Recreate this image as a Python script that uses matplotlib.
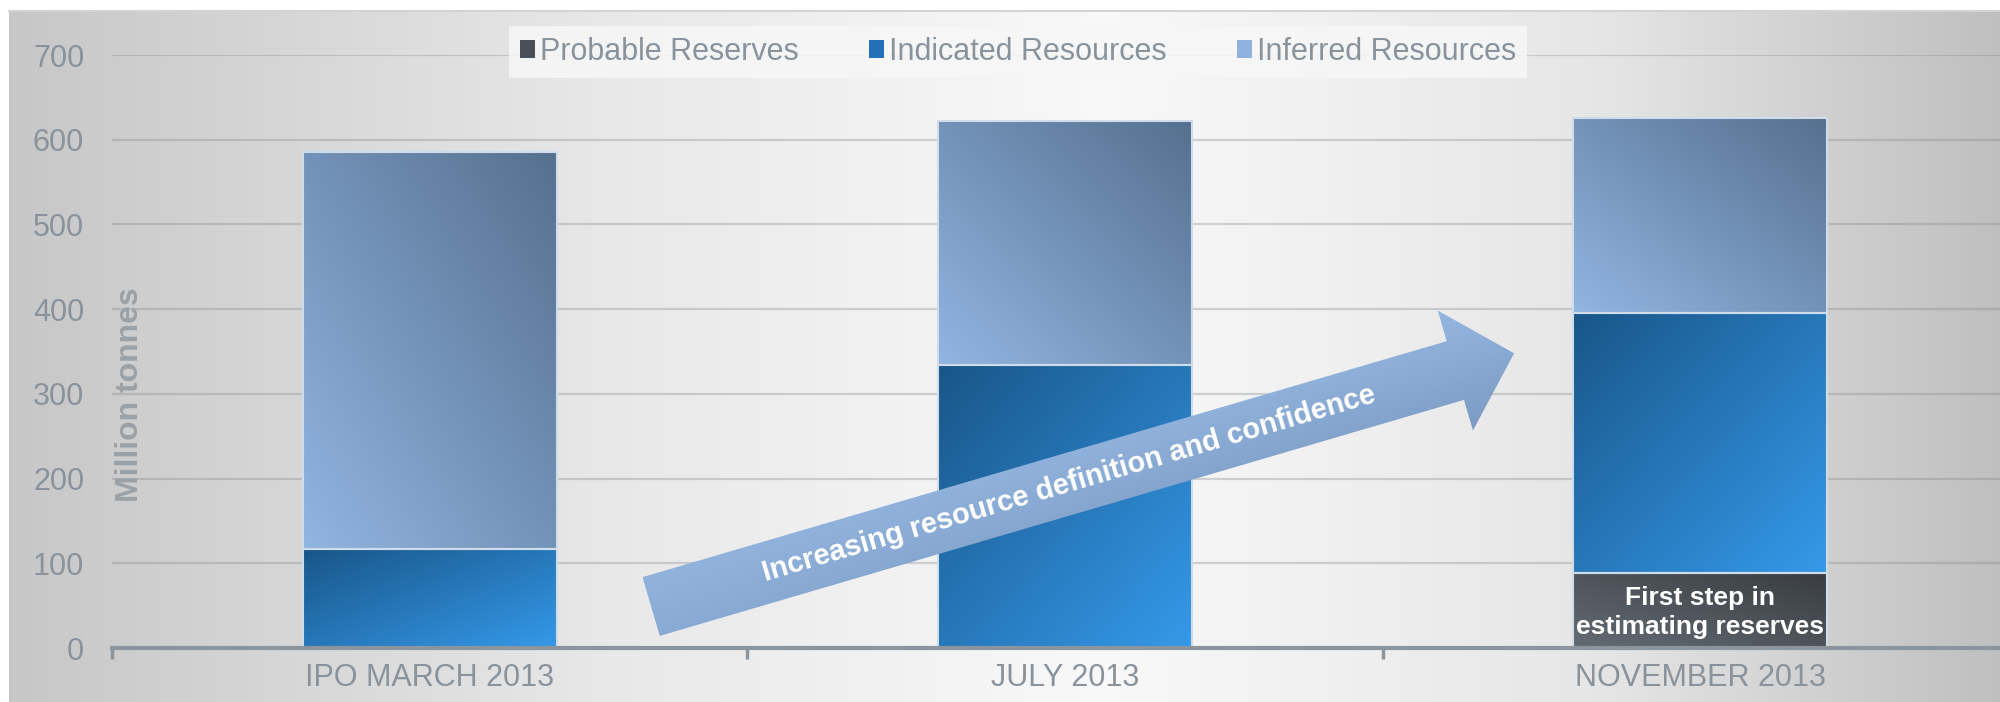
import numpy as np
import matplotlib
matplotlib.use('Agg')
import matplotlib.pyplot as plt
from matplotlib.colors import LinearSegmentedColormap
from matplotlib.patches import Polygon, Patch

# ---------------- data ----------------
categories = ['IPO MARCH 2013', 'JULY 2013', 'NOVEMBER 2013']
series_names = ['Probable Reserves', 'Indicated Resources', 'Inferred Resources']
probable = [0, 0, 89]
indicated = [117, 334, 307]
inferred = [469, 288, 230]
yticks = [0, 100, 200, 300, 400, 500, 600, 700]
arrow_text = 'Increasing resource definition and confidence'
bar_note = 'First step in\nestimating reserves'
y_label = 'Million tonnes'

# ---------------- style ----------------
W, H = 2000, 702
SANS = ['Liberation Sans', 'DejaVu Sans']
GREY_TXT = '#8a939b'

fig = plt.figure(figsize=(W / 100, H / 100), dpi=100)
fig.patch.set_facecolor('white')

# background panel with horizontal gradient
bg = fig.add_axes([9 / W, 0, 1 - 9 / W, (H - 11) / H], zorder=0)
xs = np.linspace(0, 1, 600)
vals = np.interp(xs, [0, 0.3, 0.55, 0.8, 1.0], [0.78, 0.91, 0.975, 0.90, 0.75])
img = np.dstack([np.tile(vals, (2, 1))] * 3)
bg.imshow(img, aspect='auto', extent=(0, 1, 0, 1), interpolation='bilinear')
bg.set_xlim(0, 1)
bg.set_ylim(0, 1)
bg.set_axis_off()
fig.add_artist(plt.Line2D([9 / W, 1], [1 - 11 / H] * 2, color='#d3d3d3', lw=1.5))

# main axes
ax = fig.add_axes([112 / W, 1 - 648 / H, (2018 - 112) / W, (648 - 55) / H], zorder=1)
ax.patch.set_alpha(0)
x = np.arange(len(categories))
width = 0.4
bot_ind = np.array(probable)
bot_inf = bot_ind + np.array(indicated)
edge = '#cfdcea'
b_prob = ax.bar(x, probable, width, color='#4a5058', edgecolor=edge, lw=1.5, zorder=3)
b_ind = ax.bar(x, indicated, width, bottom=bot_ind, color='#2370b8', edgecolor=edge, lw=1.5, zorder=3)
b_inf = ax.bar(x, inferred, width, bottom=bot_inf, color='#8fb3de', edgecolor=edge, lw=1.5, zorder=3)


def gradient_fill(bars, c0, c1, mode):
    cmap = LinearSegmentedColormap.from_list('g', [c0, c1])
    u = np.linspace(0, 1, 80)
    U, V = np.meshgrid(u, u)
    t = (U + V) / 2 if mode == 'bl_tr' else (U + (1 - V)) / 2
    for p in bars:
        if p.get_height() <= 0:
            p.set_visible(False)
            continue
        p.set_facecolor('none')
        x0, y0, w, h = p.get_x(), p.get_y(), p.get_width(), p.get_height()
        im = ax.imshow(t, cmap=cmap, vmin=0, vmax=1, origin='lower',
                       extent=(x0, x0 + w, y0, y0 + h), aspect='auto',
                       interpolation='bilinear', zorder=2.5)
        im.set_clip_path(p)


gradient_fill(b_prob, '#646b73', '#393d42', 'bl_tr')
gradient_fill(b_ind, '#195689', '#3599e9', 'tl_br')
gradient_fill(b_inf, '#91b5e1', '#56708f', 'bl_tr')

ax.set_xlim(-0.5, 2.5)
ax.set_ylim(0, 700)
ax.set_yticks(yticks)
ax.set_xticks(x)
ax.set_xticklabels(categories)
ax.set_xticks([-0.5, 0.5, 1.5, 2.5], minor=True)
ax.yaxis.grid(True, color='#7f868c', alpha=0.33, lw=1.6)
ax.set_axisbelow(True)
for s in ['left', 'right', 'top']:
    ax.spines[s].set_visible(False)
ax.spines['bottom'].set_color('#8c949c')
ax.spines['bottom'].set_linewidth(3)
ax.spines['bottom'].set_zorder(4)
ax.tick_params(axis='y', length=0, pad=20, labelsize=22, labelcolor=GREY_TXT)
ax.tick_params(axis='x', which='major', length=0, pad=11, labelsize=22, labelcolor=GREY_TXT)
ax.tick_params(axis='x', which='minor', length=8, width=2.5, color='#8c949c', direction='out')
for lab in ax.get_xticklabels() + ax.get_yticklabels():
    lab.set_family(SANS)

ax.text(2, 42, bar_note, ha='center', va='center', color='white', fontsize=19,
        fontweight='bold', family=SANS, linespacing=1.3, zorder=6)

fig.text(130 / W, 1 - 395 / H, y_label, rotation=90, ha='center', va='center',
         fontsize=23, fontweight='bold', color='#9ca1a6', family=SANS)

# legend
handles = [Patch(facecolor=c, edgecolor='none') for c in ['#4a5058', '#2370b8', '#8fb3de']]
leg = fig.legend(handles, series_names, loc='center', bbox_to_anchor=(1018 / W, 1 - 52 / H),
                 ncol=3, frameon=True, fancybox=False, handlelength=0.5, handleheight=0.5,
                 handletextpad=0.15, columnspacing=2.3, borderpad=0.35,
                 prop={'family': SANS, 'size': 22}, labelcolor=GREY_TXT)
leg.get_frame().set_facecolor('#f7f7f7')
leg.get_frame().set_edgecolor('none')
leg.get_frame().set_alpha(0.85)

# overlay: arrow annotation in pixel coordinates
ov = fig.add_axes([0, 0, 1, 1], zorder=5)
ov.set_axis_off()
ov.patch.set_alpha(0)
s = W / 1568
T = np.array([510.5, 475.5]) * s
B = np.array([1141.0, 290.5]) * s
u = (B - T) / np.linalg.norm(B - T)
n = np.array([u[1], -u[0]])
w, hl, hw = 24 * s, 48 * s, 49 * s
P = B + hl * u
L = np.linalg.norm(P - T)
pts = np.array([T + w * n, B + w * n, B + hw * n, P, B - hw * n, B - w * n, T - w * n])
poly = Polygon(pts, closed=True, facecolor='none', edgecolor='none', zorder=3)
ov.add_patch(poly)
gx = np.linspace(pts[:, 0].min(), pts[:, 0].max(), 300)
gy = np.linspace(pts[:, 1].min(), pts[:, 1].max(), 200)
GX, GY = np.meshgrid(gx, gy)
d = ((GX - T[0]) * n[0] + (GY - T[1]) * n[1]) / hw
along = ((GX - T[0]) * u[0] + (GY - T[1]) * u[1]) / L
tt = np.clip(0.5 - 0.5 * d, 0, 1) * (0.6 + 0.4 * np.clip(along, 0, 1))
cmap_a = LinearSegmentedColormap.from_list('a', ['#94b7e1', '#7b9ac2'])
im = ov.imshow(tt, cmap=cmap_a, vmin=0, vmax=1, extent=(gx[0], gx[-1], gy[-1], gy[0]),
               aspect='auto', interpolation='bilinear', zorder=2)
im.set_clip_path(poly)
ov.set_xlim(0, W)
ov.set_ylim(H, 0)
ang = np.degrees(np.arctan2(-u[1], u[0]))
C = T + 0.484 * (P - T)
ov.text(C[0], C[1], arrow_text, rotation=ang, rotation_mode='anchor', ha='center', va='center',
        color='white', fontsize=21, fontweight='bold', family=SANS, zorder=4)

fig.savefig('out.png', dpi=100)
